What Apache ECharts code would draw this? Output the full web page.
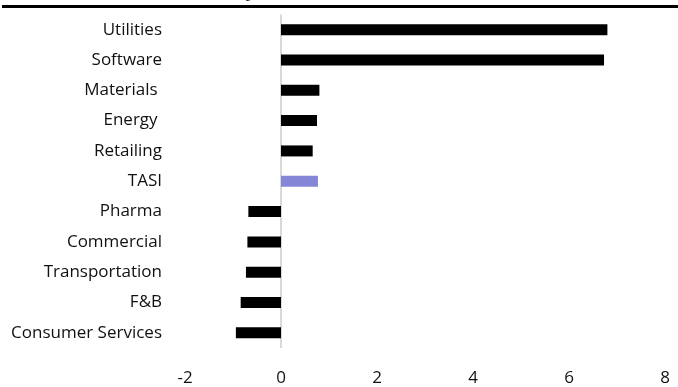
<!DOCTYPE html>
<html>
<head>
<meta charset="utf-8">
<script src="https://cdn.jsdelivr.net/npm/echarts@6/dist/echarts.min.js"></script>
<style>
  html, body { margin: 0; padding: 0; background: #ffffff; }
  #chart { width: 678px; height: 387px; }
</style>
</head>
<body>
<div id="chart"></div>
<script>
// Sector returns, top to bottom as listed
const sectors = ['Utilities', 'Software', 'Materials ', 'Energy ', 'Retailing', 'TASI',
                 'Pharma', 'Commercial', 'Transportation', 'F&B', 'Consumer Services'];
const returns = [6.80, 6.73, 0.80, 0.75, 0.66, 0.77, -0.68, -0.70, -0.73, -0.84, -0.94];
const benchmark = 'TASI';
const xTicks = [-2, 0, 2, 4, 6, 8];

const FONT = '"Open Sans", sans-serif';
const chart = echarts.init(document.getElementById('chart'), null, { renderer: 'canvas' });

chart.setOption({
  animation: false,
  backgroundColor: '#ffffff',
  title: {
    text: 'Weekly Sector Returns (%)',
    left: 182,
    top: -25,
    textStyle: { fontFamily: FONT, fontSize: 19, fontWeight: 'bold', color: '#1f2a44', lineHeight: 22 }
  },
  graphic: [{
    type: 'rect',
    shape: { x: 2, y: 5, width: 676, height: 3 },
    style: { fill: '#000000' },
    z: 10
  }],
  grid: { left: 185, right: 13, top: 14.5, bottom: 36.7, containLabel: false },
  xAxis: {
    type: 'value',
    min: xTicks[0],
    max: xTicks[xTicks.length - 1],
    interval: 2,
    axisLine: { show: false },
    axisTick: { show: false },
    splitLine: { show: false },
    axisLabel: { fontFamily: FONT, fontSize: 17, color: '#111111', margin: 22 }
  },
  yAxis: {
    type: 'category',
    inverse: true,
    data: sectors,
    axisLine: { show: false },
    axisTick: { show: false },
    axisLabel: { fontFamily: FONT, fontSize: 17, color: '#111111', margin: 23 }
  },
  series: [{
    type: 'bar',
    barWidth: 11,
    data: returns.map((v, i) => ({
      value: v,
      itemStyle: { color: sectors[i] === benchmark ? '#8686d6' : '#000000' }
    })),
    markLine: {
      silent: true,
      symbol: 'none',
      label: { show: false },
      lineStyle: { color: '#d9d9d9', width: 2, type: 'solid' },
      data: [{ xAxis: 0 }],
      z: 1
    },
    z: 2
  }]
});
</script>
</body>
</html>
